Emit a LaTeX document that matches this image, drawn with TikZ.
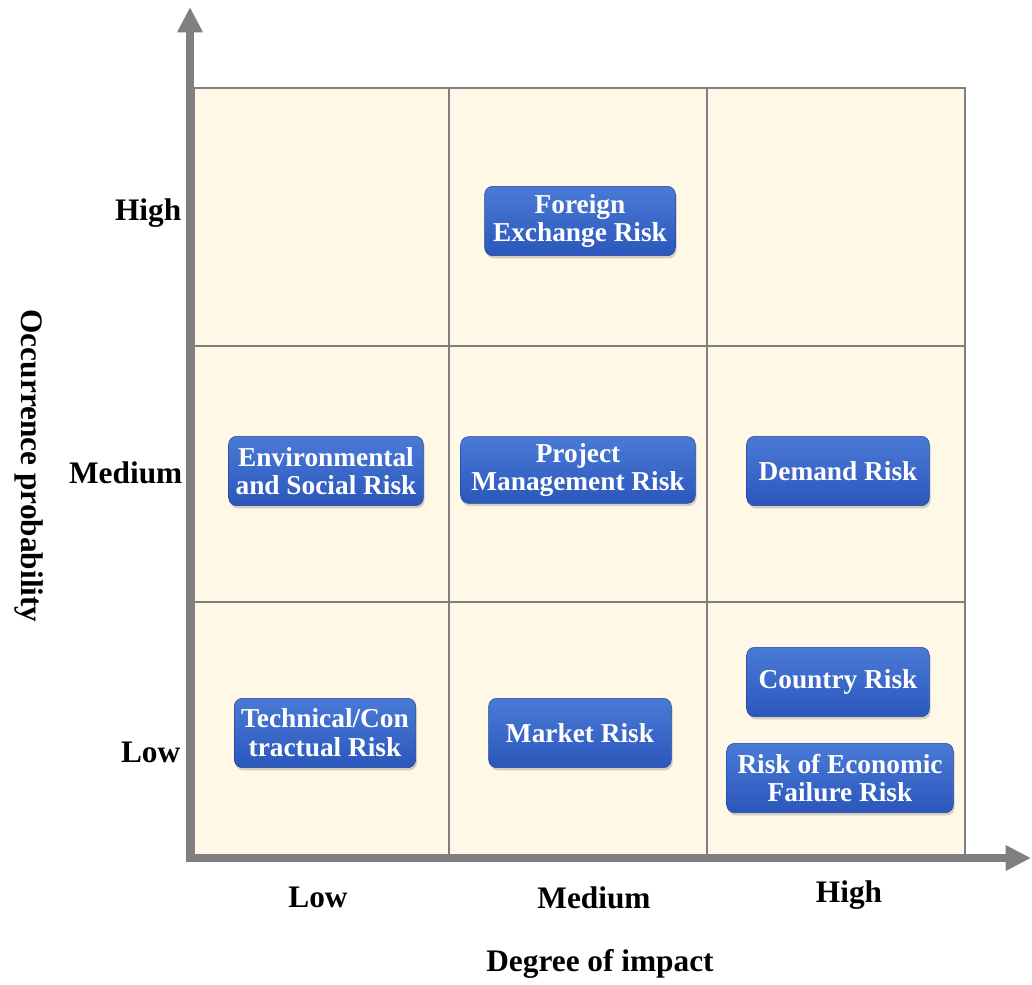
\documentclass[tikz,border=0pt]{standalone}
\usepackage{fontspec}
\setmainfont{Liberation Serif}
\usetikzlibrary{arrows.meta,shadows,shadings}
\definecolor{cellcream}{HTML}{FFF8E6}
\definecolor{gridgray}{HTML}{808080}
\definecolor{risktop}{HTML}{4A7AD6}
\definecolor{riskbot}{HTML}{2B57BC}
\begin{document}
\begin{tikzpicture}[
    x=0.75pt, y=-0.75pt,
    cell/.style={draw=gridgray, line width=2.1pt, fill=cellcream},
    risk/.style={rounded corners=6pt, top color=risktop, bottom color=riskbot,
                 draw=riskbot!80!black, line width=0.4pt,
                 drop shadow={opacity=0.35, shadow xshift=1pt, shadow yshift=-2pt},
                 minimum height=52pt, align=center, text=white, inner sep=2pt,
                 font=\fontsize{20.5}{21.5}\selectfont\bfseries},
    lbl/.style={font=\fontsize{23.5}{26}\selectfont\bfseries},
    axis/.style={draw=gridgray, line width=6pt, -{Triangle[length=19pt,width=18pt]}}
]
\useasboundingbox (0,0) rectangle (1032,985);

% grid of cells
\foreach \xa/\xb in {194/449, 449/707, 707/965}
  \foreach \ya/\yb in {88/346, 346/602, 602/858}
    \draw[cell] (\xa,\ya) rectangle (\xb,\yb);

% axes
\coordinate (origin) at (190,858);
\coordinate (ytip)   at (190,7);
\coordinate (xtip)   at (1031,858);
\draw[axis] ([yshift=-3pt]origin) -- (ytip);
\draw[axis] ([xshift=-3pt]origin) -- (xtip);

% risks
\node[risk, minimum width=143pt] (forex)   at (580,221) {Foreign\\Exchange Risk};
\node[risk, minimum width=146pt] (envsoc)  at (326,471) {Environmental\\and Social Risk};
\node[risk, minimum width=176pt, minimum height=50pt] (projmgmt) at (578,470) {Project\\Management Risk};
\node[risk, minimum width=137pt] (demand)  at (838,471) {Demand Risk};
\node[risk, minimum width=136pt] (techcon) at (325,733) {Technical/Con\\tractual Risk};
\node[risk, minimum width=137pt] (market)  at (580,733) {Market Risk};
\node[risk, minimum width=137pt] (country) at (838,682) {Country Risk};
\node[risk, minimum width=170pt] (econ)    at (840,778) {Risk of Economic\\Failure Risk};

% probability levels
\node[lbl, anchor=east] (phigh) at (186,213) {High};
\node[lbl, anchor=east] (pmed)  at (187,473) {Medium};
\node[lbl, anchor=east] (plow)  at (185,752) {Low};

% impact levels
\node[lbl] (ilow)  at (318,897) {Low};
\node[lbl] (imed)  at (594,898) {Medium};
\node[lbl] (ihigh) at (849,895) {High};

% axis titles
\node[lbl] (xtitle) at (600,964) {Degree of impact};
\node[lbl, rotate=-90] (ytitle) at (29,466) {Occurrence probability};
\end{tikzpicture}
\end{document}
